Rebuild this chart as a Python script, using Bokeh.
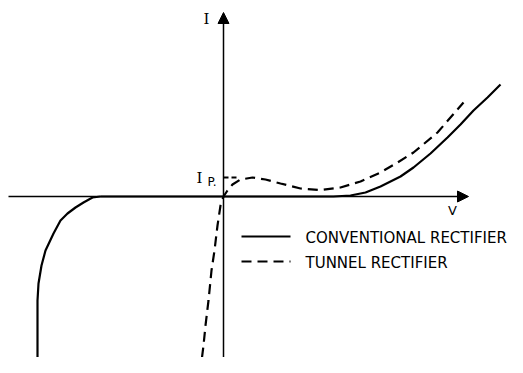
from bokeh.plotting import figure
from bokeh.models import Range1d, Arrow, NormalHead
from bokeh.core.properties import value
from bokeh.embed import file_html
from bokeh.resources import INLINE

# Conventional rectifier (solid) - arbitrary units V, I
conv_v = [-18.6, -18.6, -18.5, -18.2, -17.8, -17.0, -16.3, -15.6, -14.8, -14.0, -13.1, -12.3,
          11.0, 12.7, 14.2, 15.7, 17.7, 19.0, 20.7, 22.4, 23.7, 25.0, 26.4, 27.7]
conv_i = [-17.7, -10.4, -8.7, -6.9, -5.4, -3.7, -2.4, -1.7, -1.1, -0.6, -0.1, 0.0,
          0.0, 0.1, 0.4, 1.0, 2.0, 2.9, 4.3, 5.9, 7.2, 8.6, 9.9, 11.2]

# Tunnel rectifier (dashed)
tun_v = [-2.35, -2.0, -1.8, -1.5, -1.2, -0.9, -0.6, -0.3, 0.0, 0.4, 0.9, 1.7, 2.9, 4.2, 5.7,
         7.7, 9.7, 11.7, 13.7, 15.7, 17.4, 19.0, 21.4, 24.0]
tun_i = [-17.7, -14.9, -12.9, -10.4, -7.4, -5.4, -2.9, -0.9, 0.0, 0.6, 1.2, 1.7, 1.9, 1.7, 1.3,
         0.8, 0.65, 0.9, 1.5, 2.4, 3.4, 4.4, 6.4, 9.4]

peak_current = 1.9
legend_labels = ["CONVENTIONAL RECTIFIER", "TUNNEL RECTIFIER"]

p = figure(width=507, height=357, output_backend="svg", toolbar_location=None,
           x_range=Range1d(-22.3, 28.4), y_range=Range1d(-16.1, 19.6),
           min_border=0, outline_line_color=None)
p.axis.visible = False
p.grid.visible = False

# axes with arrows
p.add_layout(Arrow(x_start=-21.5, y_start=0, x_end=24.5, y_end=0, line_width=1.5,
                   end=NormalHead(size=11, fill_color="black", line_color="black")))
p.add_layout(Arrow(x_start=0, y_start=-17.7, x_end=0, y_end=18.4, line_width=1.5,
                   end=NormalHead(size=11, fill_color="black", line_color="black")))

p.line(conv_v[:12], conv_i[:12], line_color="black", line_width=2.2)
p.line(conv_v[11:], conv_i[11:], line_color="black", line_width=2.2)
p.line(tun_v, tun_i, line_color="black", line_width=2.2, line_dash="10 6")

# peak marker
p.line([0, 1.5], [peak_current, peak_current], line_color="black", line_width=2, line_dash="5 3")

# legend
p.line([1.8, 6.7], [-4.0, -4.0], line_color="black", line_width=2.2)
p.line([1.8, 6.7], [-6.5, -6.5], line_color="black", line_width=2.2, line_dash="10 6")
p.text(x=[8.2, 8.2], y=[-4.15, -6.65], text=legend_labels,
       text_font=value("DejaVu Sans"), text_font_size="15px",
       text_align="left", text_baseline="middle", text_color="black")

# labels
p.text(x=[-1.7], y=[17.8], text=["I"], text_font=value("DejaVu Serif"), text_font_size="15px",
       text_align="center", text_baseline="middle")
p.text(x=[22.9], y=[-1.4], text=["V"], text_font=value("DejaVu Sans"), text_font_size="13px",
       text_align="center", text_baseline="middle")
p.text(x=[-2.4], y=[peak_current], text=["I"], text_font=value("DejaVu Serif"),
       text_font_size="15px", text_align="center", text_baseline="middle")
p.text(x=[-1.6], y=[1.5], text=["P."], text_font=value("DejaVu Sans"),
       text_font_size="12px", text_align="left", text_baseline="middle")

open("out.html", "w").write(file_html(p, INLINE))
